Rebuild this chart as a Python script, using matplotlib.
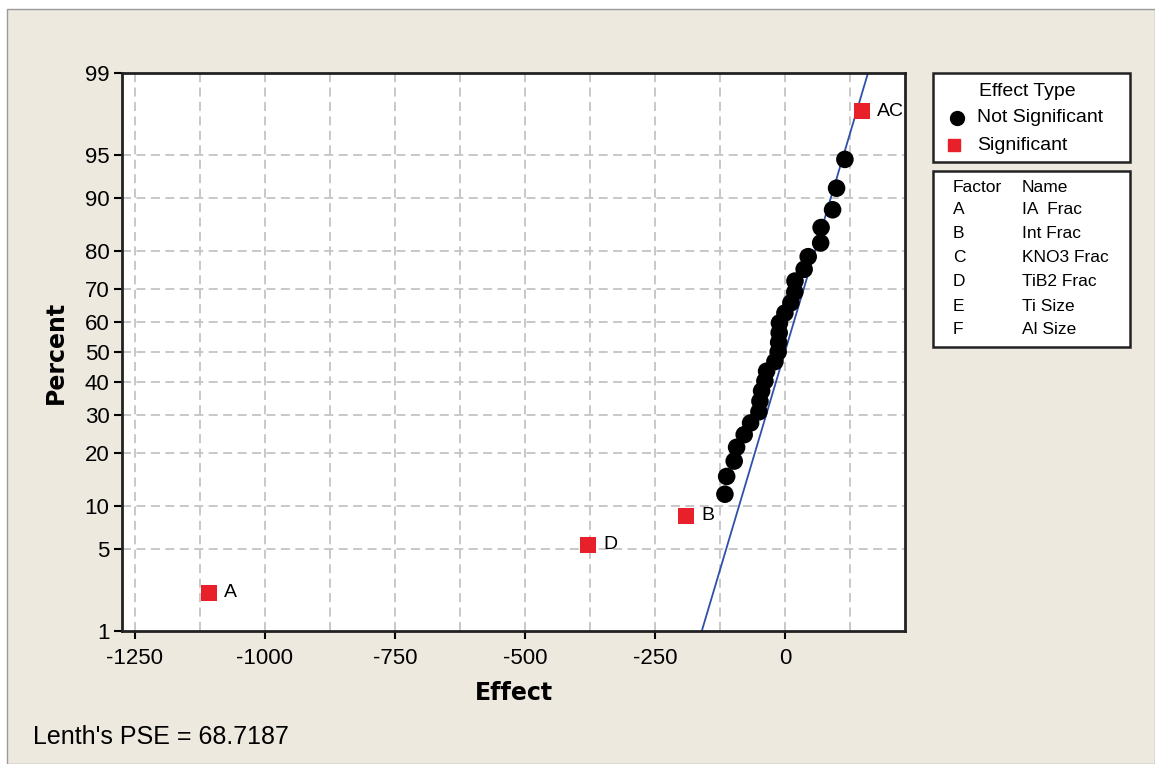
import numpy as np
import matplotlib.pyplot as plt
from matplotlib.patches import Rectangle
from statistics import NormalDist

# effects from the 2^(6-1) design (31 estimable effects)
sig_names = ["A", "D", "B", "AC"]
sig_effects = [-1107.7, -378.8, -190.4, 148.0]
other_effects = [-115.4, -112.0, -97.5, -92.9, -78.3, -66.0, -50.0, -48.0,
                 -44.8, -38.5, -35.2, -19.2, -13.0, -12.0, -11.0, -10.5,
                 0.0, 11.5, 19.0, 19.4, 37.0, 44.8, 68.8, 69.6, 91.7,
                 99.4, 115.4]
pse = 68.7187

factors = ["A", "B", "C", "D", "E", "F"]
factor_names = ["IA  Frac", "Int Frac", "KNO3 Frac", "TiB2 Frac", "Ti Size", "Al Size"]

pct_ticks = [1, 5, 10, 20, 30, 40, 50, 60, 70, 80, 90, 95, 99]
x_ticks = [-1250, -1000, -750, -500, -250, 0]

nd = NormalDist()
W, H = 1155, 764
bg = "#ede9df"
red = "#e8202a"

# normal scores using Minitab's (i - 0.3) / (n + 0.4) plotting positions
all_eff = np.array(sig_effects + other_effects)
is_sig = np.array([True] * len(sig_effects) + [False] * len(other_effects))
order = np.argsort(all_eff)
n = len(all_eff)
zscore = np.empty(n)
for rank, idx in enumerate(order, start=1):
    zscore[idx] = nd.inv_cdf((rank - 0.3) / (n + 0.4))

plt.rcParams['font.family'] = ['Liberation Sans', 'DejaVu Sans']
plt.rcParams['axes.unicode_minus'] = False

fig = plt.figure(figsize=(W / 100, H / 100), dpi=100)
fig.patch.set_facecolor("white")
fig.patches.append(Rectangle((7 / W, 0), 1 - 7 / W, 1 - 9 / H, transform=fig.transFigure,
                             facecolor=bg, edgecolor="#9a9a9a", lw=1, zorder=-10))

def px(x, y):
    return x / W, 1 - y / H

ax = fig.add_axes([122 / W, 1 - 631 / H, (905 - 122) / W, (631 - 73) / H])
ax.set_facecolor("white")
zmax = nd.inv_cdf(0.99)
ax.set_xlim(-1275, 231)
ax.set_ylim(-zmax, zmax)

ax.set_xticks(x_ticks)
ax.set_xticks(np.arange(-1125, 200, 250), minor=True)
ax.set_yticks([nd.inv_cdf(p / 100) for p in pct_ticks])
ax.set_yticklabels([str(p) for p in pct_ticks])
ax.tick_params(axis="both", which="major", direction="out", length=6, width=1.5,
               labelsize=16, color="black", pad=3)
ax.tick_params(axis="x", which="major", pad=6)
ax.tick_params(axis="x", which="minor", length=0)
for s in ax.spines.values():
    s.set_linewidth(2)
    s.set_color("#222222")

grid_kw = dict(color="#c4c4c4", lw=1.3, ls=(0, (5, 3)), zorder=0)
for xv in np.arange(-1250, 230, 125):
    ax.axvline(xv, **grid_kw)
for p in pct_ticks[1:-1]:
    ax.axhline(nd.inv_cdf(p / 100), **grid_kw)

# reference line through zero with slope from Lenth's PSE
zl = np.array([-zmax, zmax])
ax.plot(pse * zl, zl, color="#2f4fa8", lw=1.3, zorder=2)

ax.scatter(all_eff[~is_sig], zscore[~is_sig], s=160, color="black", zorder=3,
           edgecolors="none")
ax.scatter(all_eff[is_sig], zscore[is_sig], s=130, marker="s", color=red, zorder=3,
           edgecolors="none")
for i, name in enumerate(sig_names):
    ax.annotate(name, (sig_effects[i], zscore[i]), xytext=(11, 0),
                textcoords="offset points", va="center", ha="left", fontsize=14)

ax.set_xlabel("Effect", fontsize=17, fontweight="bold", family="DejaVu Sans", labelpad=9)
ax.set_ylabel("Percent", fontsize=17, fontweight="bold", family="DejaVu Sans", labelpad=12)

fig.text(*px(33, 737), "Lenth's PSE = 68.7187", fontsize=18, va="center", ha="left")

# legend box: effect type
fig.patches.append(Rectangle(px(933, 162), 197 / W, 89 / H, transform=fig.transFigure,
                             facecolor="white", edgecolor="#222222", lw=1.8))
fig.text(*px(1027, 91), "Effect Type", fontsize=14, ha="center", va="center")
fig.lines.append(plt.Line2D([957 / W], [1 - 118 / H], transform=fig.transFigure,
                            marker="o", ms=10, color="black", ls="none"))
fig.text(*px(977, 118), "Not Significant", fontsize=14, ha="left", va="center")
fig.lines.append(plt.Line2D([954 / W], [1 - 145 / H], transform=fig.transFigure,
                            marker="s", ms=9, color=red, ls="none"))
fig.text(*px(977, 145), "Significant", fontsize=14, ha="left", va="center")

# legend box: factor names
fig.patches.append(Rectangle(px(933, 347), 197 / W, 176 / H, transform=fig.transFigure,
                             facecolor="white", edgecolor="#222222", lw=1.8))
fig.text(*px(953, 187), "Factor", fontsize=12.5, ha="left", va="center")
fig.text(*px(1022, 187), "Name", fontsize=12.5, ha="left", va="center")
for k, (f, nm) in enumerate(zip(factors, factor_names)):
    y = 210 + 24 * k
    fig.text(*px(953, y), f, fontsize=12.5, ha="left", va="center")
    fig.text(*px(1022, y), nm, fontsize=12.5, ha="left", va="center")

fig.savefig("out.png", dpi=100, facecolor=fig.get_facecolor())
plt.close()
